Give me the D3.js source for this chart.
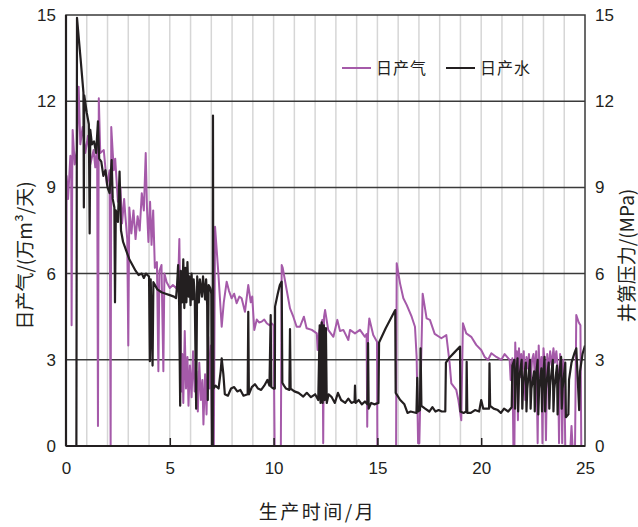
<!DOCTYPE html>
<html>
<head>
<meta charset="utf-8">
<script src="https://cdn.jsdelivr.net/npm/d3@7"></script>
<style>
  body { margin: 0; background: #fff; }
  text { font-family: "Liberation Sans", Arial, "Noto Sans CJK SC", sans-serif; fill: #231f20; }
  .cjk { font-family: "Noto Sans CJK SC", sans-serif; }
</style>
</head>
<body>
<div id="chart"></div>
<script>
// 日产气 (万m3/天), [month, value]
var gasData = [
  [0,4.7],[0.03,9.4],[0.1,8.6],[0.21,10.1],[0.25,9.9],[0.27,4.2],[0.3,9.5],[0.32,11.0],[0.42,9.8],[0.53,10.3],
  [0.61,12.5],[0.69,10.5],[0.8,11.1],[0.93,10.2],[1.06,10.8],[1.17,9.8],[1.33,10.3],[1.41,9.7],[1.5,10.4],[1.54,0.7],
  [1.58,12.1],[1.65,10.2],[1.82,10.3],[1.97,9.1],[2.1,9.6],[2.15,0],[2.18,11.1],[2.3,9.6],[2.37,10.0],[2.5,8.5],
  [2.62,9.0],[2.7,7.75],[2.8,8.6],[2.86,8.0],[2.95,7.2],[3.0,3.5],[3.05,8.3],[3.15,7.4],[3.25,8.2],[3.35,7.2],
  [3.45,8.0],[3.55,7.5],[3.65,8.8],[3.75,8.2],[3.84,10.2],[3.9,8.3],[3.97,7.1],[4.05,8.5],[4.12,7.0],[4.2,8.2],
  [4.28,6.2],[4.38,6.4],[4.45,2.6],[4.5,6.1],[4.6,6.3],[4.69,2.6],[4.74,6.0],[4.85,5.7],[5.0,5.5],[5.15,5.6],
  [5.3,5.5],[5.4,5.6],[5.46,7.2],[5.52,3.9],[5.56,1.9],[5.6,3.2],[5.65,1.5],[5.72,4.0],[5.78,2.0],[5.85,3.1],
  [5.9,1.4],[5.97,2.8],[6.05,1.7],[6.12,3.3],[6.2,1.9],[6.28,2.6],[6.35,1.2],[6.42,2.9],[6.5,1.6],[6.57,2.3],
  [6.62,0.75],[6.7,2.5],[6.77,1.1],[6.85,3.8],[6.92,2.0],[6.98,3.5],[7.04,0],[7.12,0],[7.18,7.63],[7.34,6.0],
  [7.5,4.15],[7.6,5.0],[7.74,5.72],[7.85,5.4],[7.98,5.14],[8.1,5.3],[8.22,4.97],[8.35,5.2],[8.46,5.14],[8.62,4.67],
  [8.78,5.6],[8.9,5.0],[8.97,5.2],[9.07,4.04],[9.19,4.4],[9.3,4.3],[9.43,4.33],[9.55,4.4],[9.67,4.27],[9.8,4.2],
  [9.91,4.27],[10.0,4.2],[10.05,0],[10.35,0],[10.39,6.3],[10.44,6.2],[10.63,5.43],[10.79,4.79],[10.95,4.5],[11.11,4.15],
  [11.27,4.15],[11.46,4.5],[11.59,4.1],[11.84,4.04],[12.08,3.92],[12.12,3.34],[12.2,4.0],[12.35,4.39],[12.39,0.1],[12.43,4.5],
  [12.48,4.73],[12.63,4.04],[12.88,3.8],[13.07,4.39],[13.2,4.0],[13.36,4.04],[13.6,3.69],[13.68,4.04],[13.92,3.92],[14.16,4.04],
  [14.4,3.8],[14.48,3.9],[14.51,0.67],[14.55,3.9],[14.61,4.44],[14.8,3.86],[14.98,3.63],[15.0,0],[15.9,0],[15.93,6.36],
  [16.09,5.66],[16.25,5.14],[16.41,4.91],[16.65,4.5],[16.81,4.15],[16.89,3.1],[16.96,0.1],[17.02,0.1],[17.18,5.3],[17.37,4.44],
  [17.53,4.39],[17.76,3.9],[18.08,3.75],[18.32,3.86],[18.48,2.88],[18.56,2.18],[18.8,1.95],[18.9,1.6],[18.96,1.31],[19.04,0.9],
  [19.12,4.27],[19.28,3.92],[19.52,3.8],[19.76,3.52],[20.0,3.34],[20.17,3.1],[20.33,3.0],[20.49,3.23],[20.73,3.1],[20.97,3.0],
  [21.13,3.2],[21.37,3.0],[21.42,2.3],[21.5,3.05],[21.55,0],[21.6,0],[21.64,3.6],[21.68,2.6],[21.72,3.3],[21.77,0.9],
  [21.82,3.4],[21.88,2.4],[21.93,3.2],[22.0,2.7],[22.05,3.3],[22.12,1.6],[22.18,3.1],[22.25,2.7],[22.3,3.2],[22.38,2.2],
  [22.45,3.0],[22.52,3.2],[22.58,2.5],[22.65,3.3],[22.72,0.1],[22.77,3.5],[22.82,2.4],[22.9,3.1],[22.95,0.1],[23.0,3.4],
  [23.07,2.8],[23.12,0.2],[23.18,3.2],[23.25,2.6],[23.32,3.3],[23.4,2.8],[23.48,3.4],[23.55,2.9],[23.62,3.3],[23.7,2.6],
  [23.75,0.1],[23.8,3.2],[23.86,2.8],[23.9,0.1],[23.95,3.0],[24.0,2.5],[24.05,0],[24.3,0],[24.35,0.7],[24.4,0],
  [24.52,0],[24.58,4.56],[24.7,4.3],[24.78,4.2],[24.82,0],[25,0]
];

// 日产水, [month, value]
var waterData = [
  [0,0],[0.5,0],[0.53,14.9],[0.7,13.5],[0.84,12.3],[0.86,8.3],[0.88,12.2],[1.0,11.6],[1.1,11.2],[1.14,7.4],
  [1.17,11.0],[1.25,10.5],[1.35,10.6],[1.45,10.2],[1.54,11.3],[1.6,10.0],[1.7,9.9],[1.8,9.4],[1.9,9.6],[2.0,9.0],
  [2.1,8.8],[2.2,9.95],[2.25,8.6],[2.33,8.3],[2.36,5.0],[2.4,8.2],[2.5,7.8],[2.58,9.55],[2.65,7.5],[2.75,7.1],
  [2.9,6.8],[3.05,6.5],[3.2,6.3],[3.35,6.1],[3.5,5.95],[3.65,6.0],[3.75,5.85],[3.85,6.0],[4.0,5.9],[4.04,2.95],
  [4.08,5.8],[4.17,2.8],[4.21,5.7],[4.4,5.45],[4.6,5.35],[4.8,5.3],[5.0,5.25],[5.2,5.2],[5.3,5.15],[5.35,5.6],
  [5.4,6.3],[5.45,4.9],[5.5,1.4],[5.53,6.1],[5.6,5.0],[5.65,6.5],[5.7,4.8],[5.75,6.2],[5.8,5.0],[5.85,6.4],
  [5.9,5.2],[5.95,5.9],[6.0,4.9],[6.05,6.0],[6.1,5.1],[6.15,5.8],[6.2,5.3],[6.27,1.3],[6.32,5.9],[6.4,5.0],
  [6.45,5.8],[6.55,5.2],[6.6,5.9],[6.7,5.1],[6.75,5.8],[6.8,4.9],[6.83,1.6],[6.87,5.6],[6.95,5.5],[7.0,5.3],
  [7.03,0],[7.07,0],[7.08,11.5],[7.1,2.0],[7.2,2.1],[7.35,2.0],[7.45,2.6],[7.5,3.05],[7.58,2.5],[7.65,1.8],
  [7.8,1.75],[7.95,2.0],[8.1,2.05],[8.25,1.9],[8.4,1.95],[8.55,1.75],[8.75,1.8],[8.78,4.67],[8.81,1.8],[8.95,2.05],
  [9.1,2.15],[9.25,2.0],[9.4,1.95],[9.55,2.1],[9.7,2.3],[9.8,2.1],[9.86,4.56],[9.89,2.05],[10.0,2.0],[10.06,2.0],
  [10.07,4.85],[10.2,5.3],[10.3,5.6],[10.39,5.72],[10.42,2.2],[10.5,2.1],[10.6,2.0],[10.76,1.95],[10.79,4.07],[10.82,2.0],
  [11.0,1.9],[11.2,1.85],[11.43,1.72],[11.6,1.85],[11.8,1.7],[12.0,1.8],[12.15,1.6],[12.22,4.2],[12.26,1.5],[12.32,4.3],
  [12.36,1.5],[12.42,4.2],[12.46,1.6],[12.52,4.1],[12.56,1.5],[12.65,1.8],[12.8,1.7],[12.95,1.5],[13.1,1.85],[13.25,1.6],
  [13.45,1.5],[13.6,1.65],[13.75,1.5],[13.9,1.55],[13.92,2.1],[13.95,1.5],[14.1,1.6],[14.25,1.45],[14.4,1.55],[14.52,1.45],
  [14.55,3.58],[14.58,1.3],[14.7,1.5],[14.85,1.45],[15.05,1.5],[15.08,3.6],[15.4,4.1],[15.86,4.73],[15.88,1.85],[16.1,1.6],
  [16.3,1.45],[16.45,1.15],[16.6,1.2],[16.88,1.15],[16.92,2.37],[16.95,1.2],[17.05,1.25],[17.08,3.4],[17.12,1.4],[17.3,1.3],
  [17.5,1.2],[17.65,1.35],[17.8,1.2],[17.95,1.25],[18.1,1.2],[18.27,1.2],[18.3,2.9],[18.5,3.1],[18.7,3.25],[18.98,3.46],
  [19.0,1.2],[19.15,1.15],[19.28,1.2],[19.3,2.93],[19.33,1.15],[19.5,1.15],[19.7,1.25],[19.9,1.2],[20.0,1.6],[20.1,1.3],
  [20.3,1.3],[20.38,1.3],[20.4,2.88],[20.43,1.4],[20.6,1.3],[20.8,1.25],[20.95,1.15],[21.1,1.3],[21.3,1.2],[21.47,1.35],
  [21.5,2.8],[21.6,3.0],[21.63,1.3],[21.66,2.2],[21.75,3.05],[21.78,1.2],[21.82,2.3],[21.95,3.0],[21.98,1.3],[22.02,2.1],
  [22.15,2.9],[22.18,1.2],[22.22,2.0],[22.35,3.0],[22.38,1.3],[22.42,2.0],[22.55,2.6],[22.58,1.2],[22.62,2.3],[22.72,3.0],
  [22.75,1.1],[22.79,2.0],[22.9,2.7],[22.93,1.2],[22.97,2.2],[23.05,3.1],[23.08,1.2],[23.12,2.0],[23.25,2.9],[23.28,1.3],
  [23.32,2.1],[23.45,3.0],[23.48,1.2],[23.52,2.0],[23.65,2.8],[23.68,1.1],[23.72,2.2],[23.85,3.1],[23.88,1.3],[23.92,2.0],
  [24.05,2.9],[24.08,1.0],[24.2,1.1],[24.23,2.3],[24.35,2.9],[24.5,3.25],[24.58,3.4],[24.72,1.25],[24.76,2.6],[24.88,3.2],
  [25.0,3.5]
];

var xTicks = [0, 5, 10, 15, 20, 25];
var yTicks = [0, 3, 6, 9, 12, 15];
var monthLines = d3.range(1, 25);

var width = 638, height = 527;
var margin = {top: 15, right: 53, bottom: 81, left: 66};

var svg = d3.select("#chart")
    .append("svg")
    .attr("width", width)
    .attr("height", height);

var x = d3.scaleLinear().domain([0, 25]).range([margin.left, width - margin.right]);
var yLeft = d3.scaleLinear().domain([0, 15]).range([height - margin.bottom, margin.top]);
var yRight = d3.scaleLinear().domain([0, 15]).range([height - margin.bottom, margin.top]);

var x0 = x(0), x1 = x(25), yb = yLeft(0), yt = yLeft(15);

// month grid
svg.append("g")
    .selectAll("line")
    .data(monthLines)
    .enter()
    .append("line")
    .attr("x1", d => x(d)).attr("x2", d => x(d))
    .attr("y1", yt).attr("y2", yb)
    .attr("stroke", "#d6d6d6")
    .attr("stroke-width", 1.5);

// horizontal grid
svg.append("g")
    .selectAll("line")
    .data(yTicks.filter(d => d > 0 && d < 15))
    .enter()
    .append("line")
    .attr("x1", x0).attr("x2", x1)
    .attr("y1", d => yLeft(d)).attr("y2", d => yLeft(d))
    .attr("stroke", "#3a3a3a")
    .attr("stroke-width", 1.5);

svg.append("defs").append("clipPath").attr("id", "clip")
    .append("rect")
    .attr("x", x0).attr("y", yt)
    .attr("width", x1 - x0).attr("height", yb - yt);

var lineL = d3.line().x(d => x(d[0])).y(d => yLeft(d[1]));
var lineR = d3.line().x(d => x(d[0])).y(d => yRight(d[1]));

var plot = svg.append("g").attr("clip-path", "url(#clip)");

plot.append("path")
    .datum(gasData)
    .attr("d", lineL)
    .attr("fill", "none")
    .attr("stroke", "#a55aa9")
    .attr("stroke-width", 2)
    .attr("stroke-linejoin", "round");

plot.append("path")
    .datum(waterData)
    .attr("d", lineR)
    .attr("fill", "none")
    .attr("stroke", "#231f20")
    .attr("stroke-width", 2.2)
    .attr("stroke-linejoin", "round");

// frame
svg.append("rect")
    .attr("x", x0).attr("y", yt)
    .attr("width", x1 - x0).attr("height", yb - yt)
    .attr("fill", "none")
    .attr("stroke", "#3a3a3a")
    .attr("stroke-width", 1.5);
svg.append("line")
    .attr("x1", x0).attr("x2", x0).attr("y1", yt).attr("y2", yb)
    .attr("stroke", "#231f20").attr("stroke-width", 2.2);
svg.append("line")
    .attr("x1", x0).attr("x2", x1).attr("y1", yb).attr("y2", yb)
    .attr("stroke", "#231f20").attr("stroke-width", 2.2);

// axes
var xAxis = svg.append("g")
    .attr("transform", "translate(0," + yb + ")")
    .call(d3.axisBottom(x).tickValues(xTicks).tickSize(-8).tickPadding(16));
var leftAxis = svg.append("g")
    .attr("transform", "translate(" + x0 + ",0)")
    .call(d3.axisLeft(yLeft).tickValues(yTicks).tickSize(0).tickPadding(10));
var rightAxis = svg.append("g")
    .attr("transform", "translate(" + x1 + ",0)")
    .call(d3.axisRight(yRight).tickValues(yTicks).tickSize(0).tickPadding(10));

[xAxis, leftAxis, rightAxis].forEach(function(g) {
    g.select(".domain").remove();
    g.selectAll(".tick line").attr("stroke", "#231f20").attr("stroke-width", 1.5);
    g.selectAll(".tick text")
        .style("font-family", '"Liberation Sans", Arial, sans-serif')
        .style("font-size", "17px")
        .attr("fill", "#231f20");
});
xAxis.selectAll(".tick line").filter(d => d === 0 || d === 25).remove();

// axis titles
svg.append("text")
    .attr("class", "cjk")
    .attr("x", (x0 + x1) / 2 - 8)
    .attr("y", 519)
    .attr("text-anchor", "middle")
    .style("font-size", "19px")
    .style("letter-spacing", "2.5px")
    .text("生产时间/月");

svg.append("text")
    .attr("class", "cjk")
    .attr("transform", "translate(32," + ((yt + yb) / 2 + 25) + ") rotate(-90)")
    .attr("text-anchor", "middle")
    .style("font-size", "19px")
    .text("日产气/(万m³/天)");

svg.append("text")
    .attr("class", "cjk")
    .attr("transform", "translate(634," + ((yt + yb) / 2 + 25) + ") rotate(-90)")
    .attr("text-anchor", "middle")
    .style("font-size", "19px")
    .text("井第压力/(MPa)");

// legend
var legendItems = [
    {name: "日产气", color: "#a55aa9"},
    {name: "日产水", color: "#231f20"}
];
var legend = svg.append("g");
legendItems.forEach(function(item, i) {
    var lx = 342 + i * 104;
    legend.append("line")
        .attr("x1", lx).attr("x2", lx + 29)
        .attr("y1", 68).attr("y2", 68)
        .attr("stroke", item.color)
        .attr("stroke-width", 2);
    legend.append("text")
        .attr("class", "cjk")
        .attr("x", lx + 34)
        .attr("y", 74)
        .style("font-size", "16px")
        .style("letter-spacing", "1px")
        .attr("fill", "#333")
        .text(item.name);
});
</script>
</body>
</html>
